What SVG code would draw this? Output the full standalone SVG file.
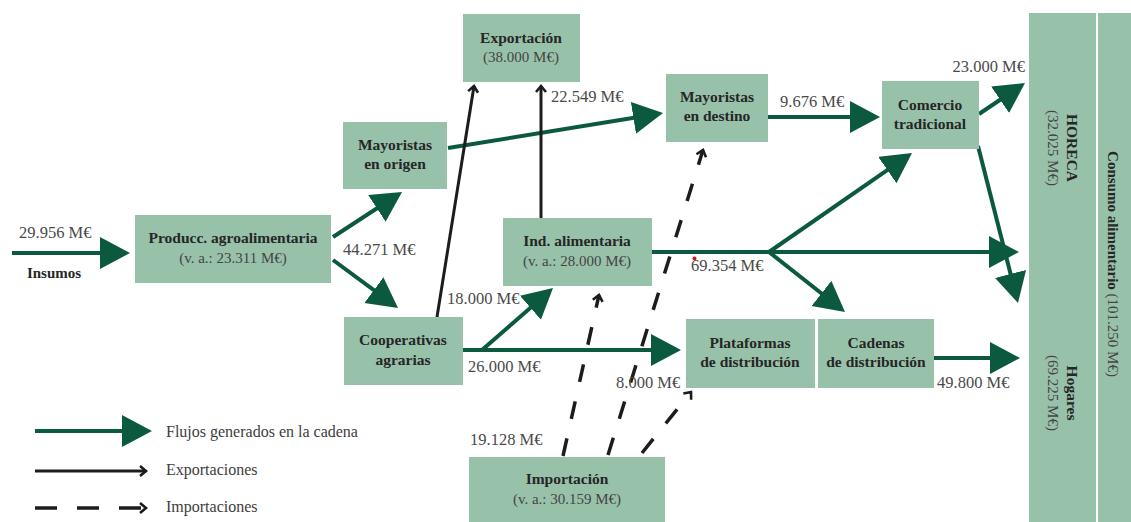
<svg xmlns="http://www.w3.org/2000/svg" width="1131" height="522" viewBox="0 0 1131 522">
<style>
.box{fill:#98c1aa}
.b{font-family:"Liberation Serif",serif;font-weight:bold;font-size:15.5px;fill:#262626;text-anchor:middle}
.r{font-family:"Liberation Serif",serif;font-size:15px;fill:#454545;text-anchor:middle}
.v{font-family:"Liberation Serif",serif;font-size:16.5px;fill:#4a4a4a}
.lg{font-family:"Liberation Serif",serif;font-size:16px;fill:#3d3d3d}
.g{stroke:#0b5a40;stroke-width:4;fill:none;marker-end:url(#gh)}
.k{stroke:#1c1c1c;stroke-width:3;fill:none;marker-end:url(#kh)}
.d{stroke:#1c1c1c;stroke-width:3.5;fill:none;stroke-dasharray:18 20;marker-end:url(#kh)}
</style>
<defs>
<marker id="gh" markerUnits="userSpaceOnUse" markerWidth="32" markerHeight="34" refX="24" refY="16" orient="auto" viewBox="0 0 32 34">
<path d="M0,0 L30,16 L0,32 z" fill="#0b5a40"/>
</marker>
<marker id="kh" markerUnits="userSpaceOnUse" markerWidth="12" markerHeight="14" refX="8" refY="6" orient="auto" viewBox="0 0 12 14">
<path d="M2,1 L8,6 L2,11" fill="none" stroke="#1c1c1c" stroke-width="2.6"/>
</marker>
</defs>
<rect width="1131" height="522" fill="#ffffff"/>

<g id="connectors">
<line class="g" x1="12" y1="253" x2="124" y2="253"/>
<line class="g" x1="333" y1="237" x2="397" y2="195.3"/>
<line class="g" x1="333" y1="260" x2="393.2" y2="304.4"/>
<line class="g" x1="482" y1="350" x2="548.5" y2="292"/>
<line class="g" x1="463" y1="350" x2="675" y2="350"/>
<line class="g" x1="448" y1="148" x2="657.1" y2="114"/>
<line class="g" x1="768" y1="117" x2="874" y2="117"/>
<line class="g" x1="979" y1="114" x2="1020" y2="86.4"/>
<line class="g" x1="652" y1="252" x2="1013" y2="252"/>
<line class="g" x1="769" y1="252" x2="907.1" y2="156.4"/>
<line class="g" x1="769" y1="252" x2="840.3" y2="308.3"/>
<line class="g" x1="978" y1="146" x2="1016.5" y2="297.2"/>
<line class="g" x1="934" y1="358" x2="1014" y2="358"/>
<line class="k" x1="437" y1="317" x2="474" y2="86"/>
<line class="k" x1="541" y1="218" x2="541" y2="86"/>
<line class="d" x1="563" y1="456" x2="599" y2="295"/>
<line class="d" x1="608" y1="455" x2="703" y2="150"/>
<line class="d" x1="642" y1="453" x2="691" y2="392"/>
</g>

<g id="legend">
<line class="g" x1="35" y1="431" x2="146" y2="431"/>
<line class="k" x1="35" y1="471" x2="146" y2="471"/>
<line class="d" x1="35" y1="508" x2="146" y2="508" style="stroke-dasharray:22 20"/>
<text class="lg" x="166" y="437">Flujos generados en la cadena</text>
<text class="lg" x="166" y="475">Exportaciones</text>
<text class="lg" x="166" y="512">Importaciones</text>
</g>

<g id="labels">
<text class="v" x="19" y="238">29.956 M€</text>
<text class="b" x="54" y="278" style="font-size:15px">Insumos</text>
<text class="v" x="343" y="255">44.271 M€</text>
<text class="v" x="447" y="304">18.000 M€</text>
<text class="v" x="468" y="372">26.000 M€</text>
<text class="v" x="616" y="388">8.000 M€</text>
<text class="v" x="470" y="445">19.128 M€</text>
<text class="v" x="551" y="102">22.549 M€</text>
<text class="v" x="780" y="107">9.676 M€</text>
<text class="v" x="1025" y="72" style="text-anchor:end">23.000 M€</text>
<text class="v" x="691" y="271">69.354 M€</text>
<circle cx="694.5" cy="258.5" r="2" fill="#e01010"/>
<text class="v" x="937" y="388">49.800 M€</text>
</g>

<g id="produccion">
<rect class="box" x="135" y="215" width="196" height="68"/>
<text class="b" x="233" y="243">Producc. agroalimentaria</text>
<text class="r" x="233" y="263">(v. a.: 23.311 M€)</text>
</g>
<g id="mayoristas-origen">
<rect class="box" x="343" y="122" width="104" height="67"/>
<text class="b" x="395" y="150">Mayoristas</text>
<text class="b" x="395" y="169">en origen</text>
</g>
<g id="cooperativas">
<rect class="box" x="344" y="317" width="119" height="68"/>
<text class="b" x="403" y="345">Cooperativas</text>
<text class="b" x="403" y="365">agrarias</text>
</g>
<g id="exportacion">
<rect class="box" x="463" y="14" width="117" height="68"/>
<text class="b" x="521" y="43">Exportación</text>
<text class="r" x="521" y="62">(38.000 M€)</text>
</g>
<g id="mayoristas-destino">
<rect class="box" x="666" y="74" width="102" height="68"/>
<text class="b" x="717" y="102">Mayoristas</text>
<text class="b" x="717" y="121">en destino</text>
</g>
<g id="comercio">
<rect class="box" x="882" y="81" width="97" height="68"/>
<text class="b" x="930" y="110">Comercio</text>
<text class="b" x="930" y="129">tradicional</text>
</g>
<g id="industria">
<rect class="box" x="503" y="218" width="149" height="68"/>
<text class="b" x="577" y="246">Ind. alimentaria</text>
<text class="r" x="577" y="266">(v. a.: 28.000 M€)</text>
</g>
<g id="plataformas">
<rect class="box" x="686" y="319" width="129" height="69"/>
<text class="b" x="750" y="348">Plataformas</text>
<text class="b" x="750" y="367">de distribución</text>
</g>
<g id="cadenas">
<rect class="box" x="818" y="319" width="116" height="69"/>
<text class="b" x="876" y="348">Cadenas</text>
<text class="b" x="876" y="367">de distribución</text>
</g>
<g id="importacion">
<rect class="box" x="469" y="457" width="196" height="65"/>
<text class="b" x="567" y="484">Importación</text>
<text class="r" x="567" y="504">(v. a.: 30.159 M€)</text>
</g>
<g id="horeca-hogares">
<rect class="box" x="1029" y="13" width="67" height="509"/>
<g transform="translate(1067,148) rotate(90)">
<text class="b" x="0" y="0">HORECA</text>
<text class="r" x="0" y="19">(32.025 M€)</text>
</g>
<g transform="translate(1067,393) rotate(90)">
<text class="b" x="0" y="0">Hogares</text>
<text class="r" x="0" y="19">(69.225 M€)</text>
</g>
</g>
<g id="consumo">
<rect class="box" x="1098" y="13" width="33" height="509"/>
<g transform="translate(1108,264) rotate(90)">
<text class="r" x="0" y="0"><tspan style="font-weight:bold;fill:#262626">Consumo alimentario</tspan> (101.250 M€)</text>
</g>
</g>
</svg>
